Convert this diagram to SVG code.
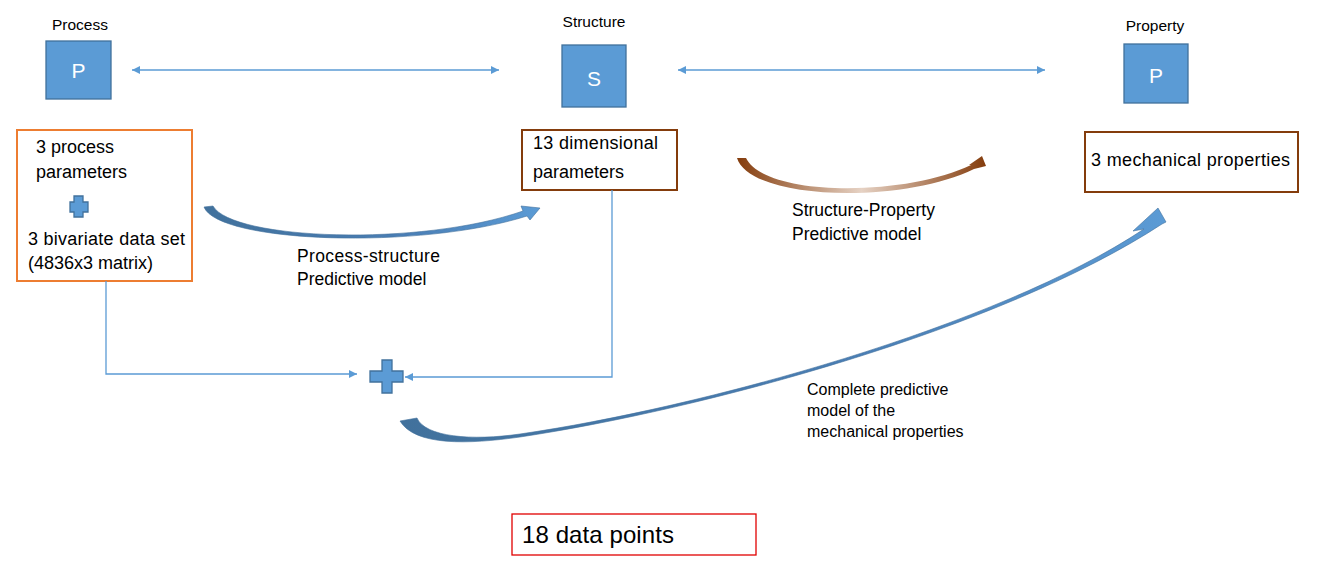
<svg xmlns="http://www.w3.org/2000/svg" width="1322" height="586" viewBox="0 0 1322 586">
<style>
text{font-family:"Liberation Sans",Arial,sans-serif;fill:#000}
.lbl{font-size:15.5px}
.big{font-size:18px}
.mid{font-size:17.5px}
.sm{font-size:16px}
.letter{font-size:21px;fill:#fff}
.blue{fill:#5B9BD5;stroke:#41719C;stroke-width:1.3}
.conn{fill:none;stroke:#5B9BD5;stroke-width:1.3}
</style>
<defs>
<marker id="ah" viewBox="0 0 10 10" refX="10" refY="5" markerWidth="9" markerHeight="8" markerUnits="userSpaceOnUse" orient="auto-start-reverse">
<path d="M0,0 L10,5 L0,10 Z" fill="#5B9BD5"/>
</marker>
<linearGradient id="gBlue" x1="0" y1="0" x2="1" y2="0">
<stop offset="0" stop-color="#41719C"/>
<stop offset="0.6" stop-color="#4A7EB5"/>
<stop offset="1" stop-color="#5B9BD5"/>
</linearGradient>
<linearGradient id="gBrown" x1="0" y1="0" x2="1" y2="0">
<stop offset="0" stop-color="#843C0C"/>
<stop offset="0.5" stop-color="#E6D2C4"/>
<stop offset="1" stop-color="#843C0C"/>
</linearGradient>
</defs>

<g id="process">
<text class="lbl" x="80" y="30" text-anchor="middle">Process</text>
<rect class="blue" x="46" y="41" width="65" height="58"/>
<text class="letter" x="78.5" y="78" text-anchor="middle">P</text>
</g>

<g id="structure">
<text class="lbl" x="594" y="27" text-anchor="middle">Structure</text>
<rect class="blue" x="562" y="45" width="64" height="62"/>
<text class="letter" x="594" y="86" text-anchor="middle">S</text>
</g>

<g id="property">
<text class="lbl" x="1155" y="31" text-anchor="middle">Property</text>
<rect class="blue" x="1124" y="44" width="64" height="59"/>
<text class="letter" x="1156" y="83" text-anchor="middle">P</text>
</g>

<g id="process-params">
<rect x="17" y="130" width="175" height="151" fill="#fff" stroke="#ED7D31" stroke-width="2"/>
<text class="big" x="36" y="153">3 process</text>
<text class="big" x="36" y="178">parameters</text>
<path class="blue" d="M74,196 h9 v6 h5 v10 h-5 v5 h-9 v-5 h-4 v-10 h4 Z"/>
<text class="big" x="28" y="245" textLength="157">3 bivariate data set</text>
<text class="big" x="28" y="269">(4836x3 matrix)</text>
</g>

<g id="dimensional-params">
<rect x="522" y="130" width="155" height="60" fill="#fff" stroke="#843C0C" stroke-width="2"/>
<text class="big" x="533" y="149" textLength="125">13 dimensional</text>
<text class="big" x="533" y="178">parameters</text>
</g>

<g id="mechanical-props">
<rect x="1085" y="132" width="213" height="60" fill="#fff" stroke="#843C0C" stroke-width="2"/>
<text class="big" x="1091" y="166" textLength="199">3 mechanical properties</text>
</g>

<g id="combine">
<path class="blue" d="M382,360 h10 v11 h11 v11 h-11 v11 h-10 v-11 h-12 v-11 h12 Z"/>
</g>

<g id="data-points">
<rect x="512" y="514" width="244" height="41" fill="#fff" stroke="#E00000" stroke-width="1.3"/>
<text x="522" y="543" font-size="24" textLength="152">18 data points</text>
</g>

<g id="connectors">
<line class="conn" x1="132" y1="70" x2="499" y2="70" marker-start="url(#ah)" marker-end="url(#ah)"/>
<line class="conn" x1="678" y1="70" x2="1045" y2="70" marker-start="url(#ah)" marker-end="url(#ah)"/>
<polyline class="conn" points="106,281 106,374 357,374" marker-end="url(#ah)"/>
<polyline class="conn" points="612,190 612,377 405,377" marker-end="url(#ah)"/>
<path id="ps-arrow" d="M204,207 C218,243 420,250 527,216 L530,220 L540,208 L521,206 L523,211 C420,247 232,240 213,206 Z" fill="url(#gBlue)" stroke="#41719C" stroke-width="0.6"/>
<path id="sp-arrow" d="M737,158 C750,200 900,205 974,169 L986,166 L982,156 L969,165 L971,165 C905,197 765,197 746,158 Z" fill="url(#gBrown)" stroke="none"/>
<path id="full-arrow" d="M400,421 C415,446 468,444.5 520,437 C700,410 1000,330 1162,224 L1166,222 L1158,208 L1133,231 L1144,229 C997,327 700,408 520,434 C472,441 425,437 417,418 Z" fill="url(#gBlue)" stroke="#41719C" stroke-width="0.6"/>
<text class="mid" x="297" y="262" textLength="143">Process-structure</text>
<text class="mid" x="297" y="285">Predictive model</text>
<text class="mid" x="792" y="216">Structure-Property</text>
<text class="mid" x="792" y="240">Predictive model</text>
<text class="sm" x="807" y="395">Complete predictive</text>
<text class="sm" x="807" y="416">model of the</text>
<text class="sm" x="807" y="437">mechanical properties</text>
</g>
</svg>
